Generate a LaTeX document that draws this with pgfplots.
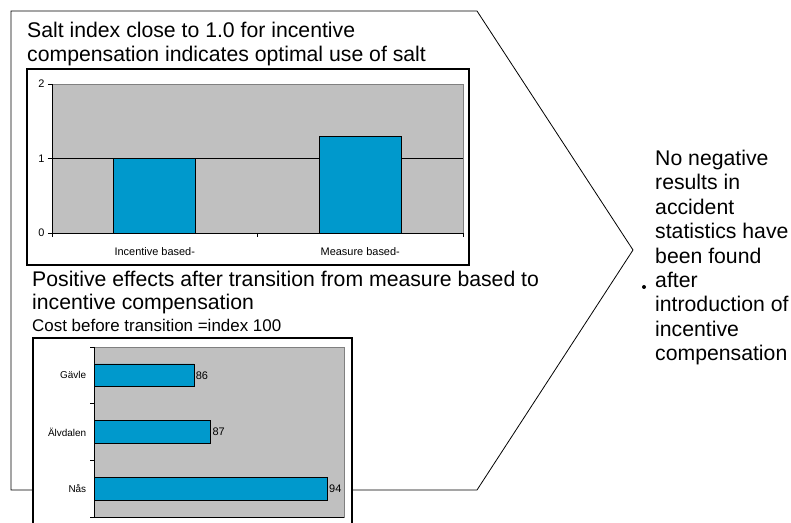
\documentclass[border=0pt]{standalone}
\usepackage{fontspec}
\setmainfont{Liberation Sans}
\usepackage{pgfplots}
\usepackage{pgfplotstable}
\pgfplotsset{compat=1.18}

\definecolor{plotgray}{RGB}{192,192,192}
\definecolor{barblue}{RGB}{0,153,204}
\definecolor{edgegray}{RGB}{128,128,128}

% salt index per compensation type
\pgfplotstableread{
x v
0 1.0
1 1.3
}\saltdata

% cost index after transition (before = 100)
\pgfplotstableread{
y v
0 86
1 87
2 94
}\costdata

\begin{document}
\begin{tikzpicture}[x=1bp,y=1bp]
\path[use as bounding box] (0,0) rectangle (791,523);
\clip (0,0) rectangle (791,523);

% arrow-shaped outline behind the charts
\draw[line width=0.8bp] (11,512) -- (477,512) -- (633,273) -- (477,33) -- (11,33) -- cycle;

% ---- top chart ----
\draw[line width=1.2bp, fill=white] (27,454) rectangle (469,258);
\node[anchor=base west, inner sep=0, font=\fontsize{21.3}{24}\selectfont] at (27,485) {Salt index close to 1.0 for incentive};
\node[anchor=base west, inner sep=0, font=\fontsize{21.3}{24}\selectfont] at (27,461) {compensation indicates optimal use of salt};

\begin{axis}[
    at={(52bp,290bp)}, anchor=south west,
    scale only axis, width=411bp, height=149bp,
    xmin=-0.5, xmax=1.5, ymin=0, ymax=2,
    ybar, bar width=0.4,
    axis background/.style={fill=plotgray, draw=edgegray},
    axis lines*=left,
    axis line style={-, black, line width=0.8bp},
    xtick={0,1}, xticklabels={Incentive based-, Measure based-},
    major x tick style={draw=none},
    minor xtick={-0.5,0.5,1.5},
    ytick={0,1,2},
    extra y ticks={1}, extra y tick labels={},
    extra y tick style={grid=major, major grid style={black, line width=0.8bp}},
    tick align=outside, major tick length=4bp, minor tick length=4bp,
    tick style={black, line width=0.8bp},
    ticklabel style={font=\fontsize{11}{13}\selectfont},
    xticklabel style={yshift=-7bp},
    /pgf/number format/assume math mode=true,
]
\addplot[fill=barblue, draw=black, line width=0.8bp] table[x=x, y=v]{\saltdata};
\end{axis}

% ---- bottom chart ----
\node[anchor=base west, inner sep=0, font=\fontsize{21.3}{24}\selectfont] at (32,236) {Positive effects after transition from measure based to};
\node[anchor=base west, inner sep=0, font=\fontsize{21.3}{24}\selectfont] at (32,213) {incentive compensation};
\node[anchor=base west, inner sep=0, font=\fontsize{17}{20}\selectfont] at (32,191) {Cost before transition =index 100};
\draw[line width=1.2bp, fill=white] (33,185) rectangle (352,-10);

\begin{axis}[
    at={(94bp,6bp)}, anchor=south west,
    scale only axis, width=250bp, height=170bp,
    xbar, bar width=0.4,
    xmin=80, xmax=95, ymin=-0.5, ymax=2.5, y dir=reverse,
    axis background/.style={fill=plotgray, draw=edgegray},
    axis lines*=left,
    axis line style={-, black, line width=0.8bp},
    xtick=\empty,
    ytick={0,1,2}, yticklabels={Gävle, Älvdalen, Nås},
    major y tick style={draw=none},
    minor ytick={-0.5,0.5,1.5,2.5},
    tick align=outside, minor tick length=4bp,
    tick style={black, line width=0.8bp},
    ticklabel style={font=\fontsize{10}{12}\selectfont},
    nodes near coords,
    nodes near coords style={font=\fontsize{11}{13}\selectfont, anchor=west, inner sep=1.5bp},
    /pgf/number format/assume math mode=true,
]
\addplot[fill=barblue, draw=black, line width=0.8bp] table[x=v, y=y]{\costdata};
\end{axis}

% ---- right-hand note ----
\fill (644,236) circle (2bp);
\foreach \t [count=\i from 0] in {No negative, results in, accident, statistics have, been found, after, introduction of, incentive, compensation}
  \node[anchor=base west, inner sep=0, font=\fontsize{21.3}{24}\selectfont] at (655,{357.5-24.4*\i}) {\t};
\end{tikzpicture}
\end{document}
